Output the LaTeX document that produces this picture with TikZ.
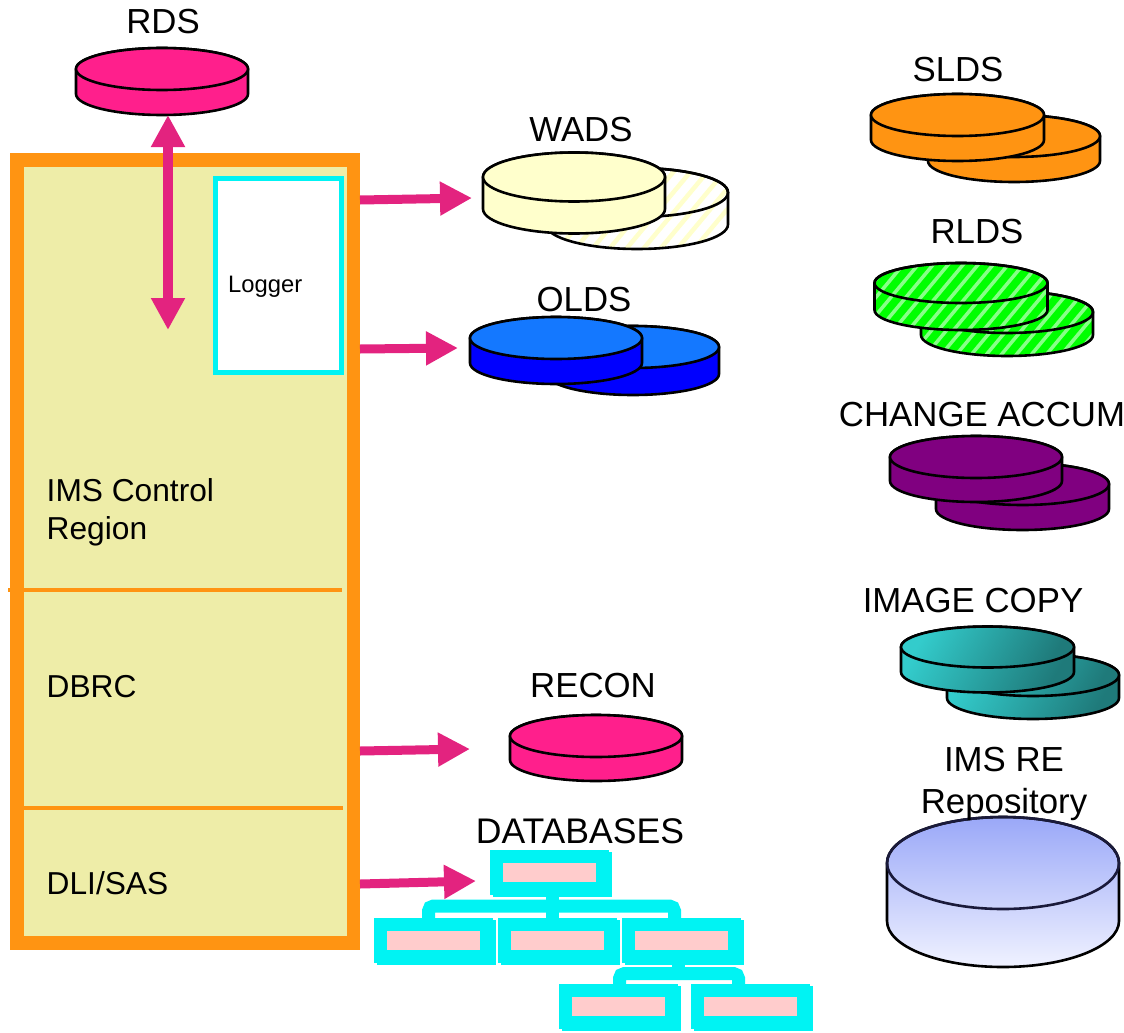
\documentclass[tikz,border=0pt]{standalone}
\usepackage{fontspec}
\setmainfont{Liberation Sans}
\usetikzlibrary{arrows.meta,shadows,calc}
\definecolor{mypink}{HTML}{FF1F8C}
\definecolor{arrowpink}{HTML}{E3237F}
\definecolor{myorange}{HTML}{FF9412}
\definecolor{myocean}{HTML}{00F3F3}
\definecolor{myolive}{HTML}{EEEDA8}
\definecolor{boxpink}{HTML}{FFCCCC}
\definecolor{cream}{HTML}{FFFFCC}
\definecolor{oldstop}{HTML}{1478FF}
\definecolor{stripegreen}{HTML}{88FF88}
\definecolor{mypurple}{HTML}{800080}
\definecolor{tealA}{HTML}{33CCCC}
\definecolor{tealB}{HTML}{1F7A7A}
\definecolor{repotop}{HTML}{9AA8F8}
\definecolor{repobot}{HTML}{F0F2FF}
\definecolor{repoline}{HTML}{1A1A3A}
\tikzset{
  flow/.style={draw=arrowpink,line width=9pt,-{Triangle[length=32pt,width=32pt]}},
  flowboth/.style={draw=arrowpink,line width=10.5pt,{Triangle[length=32pt,width=32pt]}-{Triangle[length=32pt,width=32pt]}},
  title/.style={font=\fontsize{34.8}{42}\selectfont,align=center,inner sep=0pt},
  region/.style={font=\fontsize{31.7}{38}\selectfont,align=left,anchor=west,inner sep=0pt},
  treebox/.style={draw=myocean,fill=boxpink,line width=13pt,outer sep=0pt,inner sep=0pt,
    minimum width=106pt,minimum height=32pt,
    copy shadow={draw=myocean,fill=myocean,shadow xshift=3pt,shadow yshift=-2pt,opacity=1}},
  treeline/.style={draw=myocean,line width=13pt,rounded corners=5pt},
  divider/.style={draw=myorange,line width=4pt},
  teal shade/.style={left color=tealA,right color=tealB,shading angle=60},
  disk line/.style={line width=2.6pt,draw=black},
}
\newcommand{\stripepitch}{15}
% args: name, cx, cy, rx, ry, depth, top style, body style, stripe style (may be empty)
\newcommand{\silhouette}[5]{({#1-#3},#2) -- ({#1-#3},{#2+#5}) arc[start angle=180,end angle=360,x radius=#3 pt,y radius=#4 pt] -- ({#1+#3},#2) arc[start angle=0,end angle=180,x radius=#3 pt,y radius=#4 pt] -- cycle}
\newcommand{\disk}[9]{%
  \coordinate (#1) at (#2,#3);
  \path[#8] \silhouette{#2}{#3}{#4}{#5}{#6};
  \ifx&#9&\else
    \begin{scope}
      \clip \silhouette{#2}{#3}{#4}{#5}{#6};
      \foreach \k in {-12,...,22} {
        \draw[#9] ({#2-#4-60+\k*\stripepitch},{#3+#5+#6+5}) -- ++(75,-90);
      }
    \end{scope}
  \fi
  \draw[disk line] \silhouette{#2}{#3}{#4}{#5}{#6};
  \path[disk line,#7] (#2,#3) ellipse[x radius=#4 pt,y radius=#5 pt];
}
\begin{document}
\begin{tikzpicture}[x=1pt,y=-1pt]
\useasboundingbox (0,0) rectangle (1124,1033);

% main block
\node[draw=myorange,fill=myolive,line width=13.5pt,minimum width=336.5pt,minimum height=783pt,outer sep=0pt,inner sep=0pt] (frame) at (185,551.5) {};
\node[draw=myocean,fill=white,line width=5pt,minimum width=126pt,minimum height=194pt,outer sep=0pt,inner sep=0pt] (logger) at (278.5,275.5) {};
\node[font=\fontsize{23.8}{28}\selectfont,anchor=west,inner sep=0pt] (loggertext) at (228,287) {Logger};
\coordinate (d1a) at (8,590); \coordinate (d1b) at (342,590);
\coordinate (d2a) at (10,808); \coordinate (d2b) at (343,808);
\draw[divider] (d1a) -- (d1b);
\draw[divider] (d2a) -- (d2b);
\node[region] (ims) at (46.5,512) {IMS Control\\Region};
\node[region] (dbrc) at (46.5,686.5) {DBRC};
\node[region] (dli) at (46.5,883.5) {DLI/SAS};

% disks
\disk{rds}{162}{69}{86}{21}{25}{fill=mypink}{fill=mypink}{}
\renewcommand{\stripepitch}{17}
\disk{wadsb}{637}{192.5}{91}{24.5}{32}{}{fill=white}{cream,line width=4.5pt}
\disk{wads}{574}{177}{91}{24.5}{32}{fill=cream}{fill=cream}{}
\disk{oldsb}{633}{347}{86}{21}{27}{fill=oldstop}{fill=blue}{}
\disk{olds}{556}{338}{86}{21}{25}{fill=oldstop}{fill=blue}{}
\disk{sldsb}{1014}{136}{86}{21}{25}{fill=myorange}{fill=myorange}{}
\disk{slds}{957.5}{115}{86.5}{21}{25}{fill=myorange}{fill=myorange}{}
\renewcommand{\stripepitch}{15}
\disk{rldsb}{1007}{312}{86}{21}{23}{}{fill=green}{stripegreen,line width=3.5pt}
\disk{rlds}{961}{283}{86.5}{20}{27}{}{fill=green}{stripegreen,line width=3.5pt}
\disk{changeb}{1022.5}{484}{86.5}{21}{25}{fill=mypurple}{fill=mypurple}{}
\disk{change}{976}{457}{86}{21}{24}{fill=mypurple}{fill=mypurple}{}
\disk{imageb}{1033}{675}{86}{21}{23}{teal shade}{teal shade}{}
\disk{image}{987.5}{647}{86.5}{20.5}{25}{teal shade}{teal shade}{}
\disk{recon}{596}{736}{86}{21}{24}{fill=mypink}{fill=mypink}{}
\disk{repo}{1003}{863}{116}{46}{58}{draw=repoline}{top color=repotop,bottom color=repobot}{}

% titles
\node[title] (rdst) at (163,22) {RDS};
\node[title] (wadst) at (581,130) {WADS};
\node[title] (oldst) at (584,299.5) {OLDS};
\node[title] (sldst) at (958,70) {SLDS};
\node[title] (rldst) at (977,232) {RLDS};
\node[title] (changet) at (982,415) {CHANGE ACCUM};
\node[title] (imaget) at (973,601) {IMAGE COPY};
\node[title] (recont) at (593,686) {RECON};
\node[title,font=\fontsize{35.6}{42}\selectfont] (dbt) at (580,831) {DATABASES};
\node[title] (repot) at (1004,784) {IMS RE\\Repository};

% arrows
\coordinate (a0a) at (168,115); \coordinate (a0b) at (168,330);
\draw[flowboth] (a0a) -- (a0b);
\coordinate (a1a) at (360,200); \coordinate (a1b) at (472,198);
\coordinate (a2a) at (360,349); \coordinate (a2b) at (458,348);
\coordinate (a3a) at (360,751); \coordinate (a3b) at (470,749);
\coordinate (a4a) at (360,884); \coordinate (a4b) at (476,881);
\draw[flow] (a1a) -- (a1b);
\draw[flow] (a2a) -- (a2b);
\draw[flow] (a3a) -- (a3b);
\draw[flow] (a4a) -- (a4b);

% database tree
\coordinate (barA) at (428.5,906);
\coordinate (barC) at (674.5,906);
\coordinate (barD) at (619.5,973.5);
\coordinate (barE) at (738.5,973.5);
\coordinate (vA) at (552,895);
\coordinate (vB) at (552,925);
\coordinate (vC) at (678,955);
\coordinate (vD) at (678,973);
\draw[treeline] (vA) -- (vB);
\node[treebox] (root) at (549.5,872.5) {};
\node[treebox] (ra) at (433.5,940) {};
\node[treebox] (rb) at (557.5,940) {};
\node[treebox] (rc) at (681.5,940) {};
\node[treebox] (sa) at (618,1006.5) {};
\node[treebox] (sb) at (750.5,1006.5) {};
\draw[treeline] (barA |- ra.north) -- (barA) -- (barC) -- (barC |- rc.north);
\draw[treeline] (barD |- sa.north) -- (barD) -- (barE) -- (barE |- sb.north);
\draw[treeline] (vC) -- (vD);
\end{tikzpicture}
\end{document}
